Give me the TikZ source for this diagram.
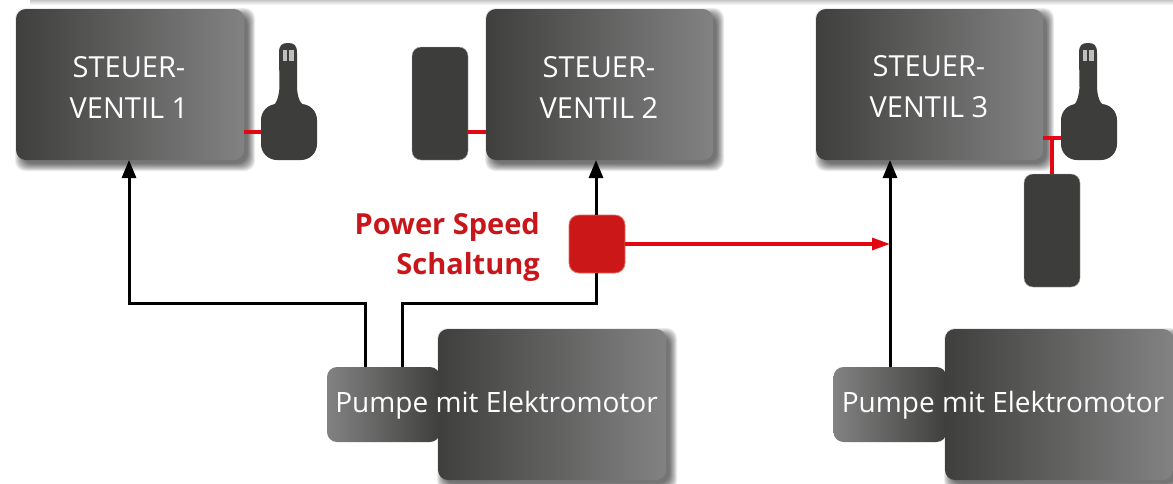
\documentclass[tikz,border=0pt]{standalone}
\usepackage{fontspec}
\setmainfont{Open Sans}
\usetikzlibrary{arrows.meta}
\definecolor{gdark}{HTML}{3F3F3E}
\definecolor{glight}{HTML}{828282}
\definecolor{pdark}{HTML}{3D3D3B}
\definecolor{redline}{HTML}{E30613}
\definecolor{redbox}{HTML}{CC1719}
\definecolor{redtext}{HTML}{C8161B}
\newcommand{\softshadow}[4]{%
  \foreach \s in {8,7.25,...,0}{%
    \fill[black,opacity=0.065,rounded corners=10pt]
      (#1+5-\s+2,#2+5-\s+2) rectangle (#3+5+\s-2,#4+5+\s-2);
  }%
}
\tikzset{
  x=1pt,y=-1pt,
  gbox/.style={rounded corners=10pt,inner sep=0pt,outer sep=0pt,left color=gdark,right color=glight,minimum width=228pt,minimum height=151pt},
  pumpbox/.style={rounded corners=10pt,inner sep=0pt,outer sep=0pt,left color=glight,right color=gdark,minimum width=113pt,minimum height=75pt},
  pedal/.style={rounded corners=9pt,inner sep=0pt,outer sep=0pt,fill=pdark,draw=gray!70,line width=0.4pt,minimum width=56pt,minimum height=113pt},
  grip/.style={rounded corners=16pt,inner sep=0pt,outer sep=0pt,fill=pdark,minimum width=56pt,minimum height=56pt},
  boxtext/.style={text=white,align=center,inner sep=0pt,font=\fontsize{29}{41}\selectfont},
  pumptext/.style={text=white,inner sep=0pt,font=\fontsize{28}{32}\selectfont},
  flow/.style={draw=black,line width=3pt,line join=miter},
  flowtip/.style={flow,-{Triangle[length=18pt,width=14pt]}},
  redlink/.style={draw=redline,line width=3.2pt},
  redtip/.style={redlink,-{Triangle[length=18pt,width=12pt,fill=redline]}},
}
\newcommand{\neck}[1]{%
  \fill[pdark] (#1+7,109) .. controls (#1+14,106) and (#1+17,102) .. (#1+18.5,88)
    -- (#1+18,53) .. controls (#1+18,45) and (#1+21,43) .. (#1+27,43)
    .. controls (#1+33,43) and (#1+36,45) .. (#1+36,53)
    -- (#1+36,88) .. controls (#1+37,102) and (#1+41,106) .. (#1+49,109) -- cycle;
  \fill[gray!50!white] (#1+21.5,50) rectangle (#1+26,61);
  \fill[gray!50!white] (#1+28,50) rectangle (#1+32.5,61);
}
\begin{document}
\begin{tikzpicture}
\useasboundingbox (0,0) rectangle (1173,483);
\fill[white] (0,0) rectangle (1173,483);
% top edge shade
\shade[top color=gray!45,bottom color=white] (30,0) rectangle (1173,5);
% coordinates for bends and links
\coordinate (b1) at (129,303);
\coordinate (b2) at (365,303);
\coordinate (b3) at (402,303);
\coordinate (b4) at (596,303);
\coordinate (l2) at (477,132);
\coordinate (l3) at (1052,138);
\coordinate (j3) at (890,244);
% shadows
\softshadow{16}{9}{244}{160}
\softshadow{486}{9}{713}{160}
\softshadow{816}{9}{1043}{160}
\softshadow{438}{329}{666}{480}
\softshadow{945}{329}{1173}{480}
% valves
\node[gbox] (v1) at (130,84.5) {};
\node[gbox,minimum width=227pt] (v2) at (599.5,84.5) {};
\node[gbox,minimum width=227pt] (v3) at (929.5,84.5) {};
\node[boxtext] (t1) at (129,87) {STEUER-\\VENTIL 1};
\node[boxtext] (t2) at (599,87) {STEUER-\\VENTIL 2};
\node[boxtext] (t3) at (929,87) {STEUER-\\VENTIL 3};
% pumps and motors
\node[pumpbox] (p1) at (383.5,404.5) {};
\node[pumpbox] (p2) at (890,404.5) {};
\node[gbox] (m1) at (552,404.5) {};
\node[gbox] (m2) at (1059,404.5) {};
\node[pumptext] (pt1) at (496.5,405.5) {Pumpe mit Elektromotor};
\node[pumptext] (pt2) at (1003,405.5) {Pumpe mit Elektromotor};
% hand controls and pedals
\neck{261}
\neck{1061}
\node[grip] (h1) at (289,132) {};
\node[grip] (h3) at (1089,132) {};
\node[pedal] (f2) at (440,103.5) {};
\node[pedal] (f3) at (1052,230.5) {};
% power speed switch
\node[rounded corners=10pt,minimum width=56pt,minimum height=58pt,inner sep=0pt,outer sep=0pt,fill=redbox,draw=redbox!75!orange!70!white,line width=0.8pt] (ps) at (597,244) {};
\node[text=redtext,align=right,anchor=east,inner sep=0pt,font=\fontsize{29}{40}\selectfont\bfseries] (pst) at (540,246.5) {Power Speed\\Schaltung};
% black flow lines
\draw[flowtip] (p1.north -| b2) -- (b2) -- (b1) -- (b1 |- v1.south);
\draw[flow] (p1.north -| b3) -- (b3) -- (b4) -- (b4 |- ps.south);
\draw[flowtip] (b4 |- ps.north) -- (b4 |- v2.south);
\draw[flowtip] (p2.north) -- (v3.south -| p2.north);
% red links
\draw[redlink] (v1.east |- h1.center) -- (h1.west);
\draw[redlink] (f2.east |- l2) -- (v2.west |- l2);
\draw[redlink] (v3.east |- l3) -- (h3.west |- l3);
\draw[redlink] (l3) -- (f3.north);
\draw[redtip] (ps.east) -- (j3);
\end{tikzpicture}
\end{document}
